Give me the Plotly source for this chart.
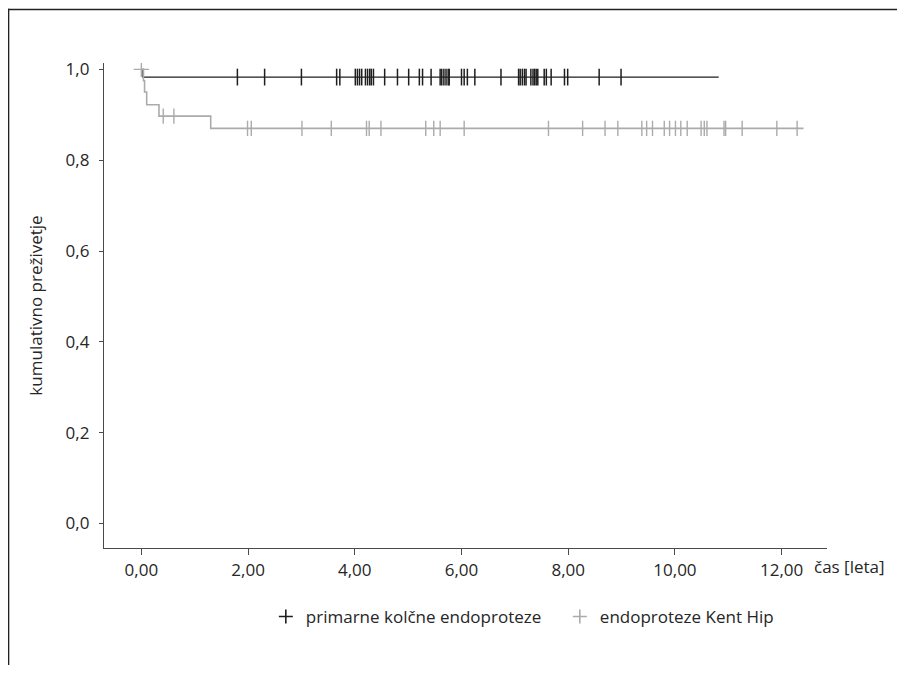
import plotly.graph_objects as go

# ---- data ----
series_names = ["primarne kolčne endoproteze", "endoproteze Kent Hip"]

# step curves (time in years, cumulative survival)
primary_t = [0.0, 0.03, 10.82]
primary_s = [1.0, 0.983, 0.983]

kent_t = [0.0, 0.04, 0.06, 0.10, 0.33, 1.30, 12.41]
kent_s = [1.0, 0.975, 0.950, 0.922, 0.897, 0.870, 0.870]

# censored observations (times)
primary_cens = [1.80, 2.31, 3.00, 3.66, 3.72, 4.01, 4.05, 4.09, 4.13, 4.20, 4.24,
                4.28, 4.31, 4.35, 4.56, 4.80, 5.01, 5.21, 5.27, 5.43, 5.60, 5.63,
                5.67, 5.71, 5.75, 5.77, 6.00, 6.05, 6.11, 6.25, 6.74, 7.07, 7.10,
                7.14, 7.18, 7.21, 7.30, 7.34, 7.37, 7.40, 7.43, 7.55, 7.59, 7.68,
                7.93, 7.99, 8.58, 8.99]
kent_cens = [0.41, 0.61, 1.99, 2.06, 3.01, 3.56, 4.22, 4.27, 4.49, 5.33, 5.48,
             5.60, 6.05, 7.63, 8.27, 8.69, 8.93, 9.38, 9.47, 9.58, 9.80, 9.90,
             10.01, 10.11, 10.23, 10.49, 10.55, 10.60, 10.92, 10.95, 11.26,
             11.91, 12.29]

x_tick_vals = [0, 2, 4, 6, 8, 10, 12]
y_tick_vals = [0.0, 0.2, 0.4, 0.6, 0.8, 1.0]

x_title = "čas [leta]"
y_title = "kumulativno preživetje"


def level_at(ts, ss, t):
    v = ss[0]
    for ti, si in zip(ts, ss):
        if ti <= t:
            v = si
    return v


FONT = "Open Sans"
TXT = "#262626"
BLACK = "#1e1e1e"
GREY = "#ababab"

fig = go.Figure()

# survival step lines
fig.add_trace(go.Scatter(x=primary_t, y=primary_s, mode="lines", line=dict(color=BLACK, width=1.3, shape="hv"),
                         showlegend=False, hoverinfo="skip"))
fig.add_trace(go.Scatter(x=kent_t, y=kent_s, mode="lines", line=dict(color=GREY, width=1.6, shape="hv"),
                         showlegend=False, hoverinfo="skip"))

# censor ticks
fig.add_trace(go.Scatter(x=kent_cens, y=[level_at(kent_t, kent_s, t) for t in kent_cens], mode="markers",
                         marker=dict(symbol="line-ns", size=11, line=dict(color=GREY, width=1.4)),
                         showlegend=False))
fig.add_trace(go.Scatter(x=primary_cens, y=[level_at(primary_t, primary_s, t) for t in primary_cens], mode="markers",
                         marker=dict(symbol="line-ns", size=12, line=dict(color=BLACK, width=1.5)),
                         showlegend=False))

# start crosses
fig.add_trace(go.Scatter(x=[kent_t[0]], y=[kent_s[0]], mode="markers",
                         marker=dict(symbol="cross-thin", size=11, line=dict(color=GREY, width=1.4)),
                         showlegend=False))

# legend entries
fig.add_trace(go.Scatter(x=[None], y=[None], mode="markers", name=series_names[0],
                         marker=dict(symbol="cross-thin", size=10, line=dict(color=BLACK, width=1.6))))
fig.add_trace(go.Scatter(x=[None], y=[None], mode="markers", name=series_names[1],
                         marker=dict(symbol="cross-thin", size=10, line=dict(color=GREY, width=1.6))))

OFF = 8  # page offset of the figure (body margin)
W, H = 905 - 2 * OFF, 673 - 2 * OFF   # keep page free of scrollbars
L = 104.3 - OFF
T = 62.7 - OFF
R = W - (826.7 - OFF)
B = H - (548 - OFF)
PW = W - L - R
PH = H - T - B


def px_x(p):
    return (p - OFF - L) / PW


def px_y(p):
    return ((H - B) - (p - OFF)) / PH


# frame drawn as thin filled bars (no stroke)
bar = 1.5
fx0 = (0.2 - L) / PW
fx1 = (0.2 + bar - L) / PW
fy_top = px_y(8.3)
fy_top_low = px_y(8.3 + bar)
fx_right = (W - L) / PW
fy_bottom = -B / PH

fig.update_layout(
    width=W, height=H,
    margin=dict(l=L, r=R, t=T, b=B, autoexpand=False),
    paper_bgcolor="white", plot_bgcolor="white",
    separators=",.",
    font=dict(family=FONT, size=17, color=TXT),
    showlegend=True,
    legend=dict(orientation="h", x=px_x(266), xanchor="left", y=px_y(617), yanchor="middle",
                entrywidth=249, entrywidthmode="pixels",
                font=dict(family=FONT, size=17, color=TXT), itemclick=False, bgcolor="rgba(0,0,0,0)"),
    xaxis=dict(range=[-0.70, 12.85], tickvals=x_tick_vals, tickformat=".2f", showgrid=False, zeroline=False,
               showline=True, linecolor="#4a4a4a", linewidth=1.3, ticks="outside", ticklen=6, tickwidth=1,
               tickcolor="#4a4a4a", tickfont=dict(family=FONT, size=17, color=TXT)),
    yaxis=dict(range=[-0.054, 1.014], tickvals=y_tick_vals, tickformat=".1f", showgrid=False, zeroline=False,
               showline=True, linecolor="#4a4a4a", linewidth=1.3, ticks="outside", ticklen=4, tickwidth=1,
               tickcolor="#4a4a4a", tickfont=dict(family=FONT, size=17, color=TXT), ticklabelstandoff=6,
               title=dict(text=y_title, font=dict(family=FONT, size=17, color=TXT), standoff=18)),
    annotations=[dict(text=x_title, xref="paper", yref="paper", x=px_x(812), y=px_y(567), xanchor="left",
                      yanchor="middle", showarrow=False, font=dict(family=FONT, size=17, color=TXT))],
    shapes=[
        dict(type="rect", xref="paper", yref="paper", x0=fx0, x1=fx_right, y0=fy_top_low, y1=fy_top,
             line=dict(width=0), fillcolor="#222222", layer="below"),
        dict(type="rect", xref="paper", yref="paper", x0=fx0, x1=fx1, y0=fy_bottom, y1=fy_top,
             line=dict(width=0), fillcolor="#222222", layer="below"),
    ],
)

fig.write_html("out.html")
